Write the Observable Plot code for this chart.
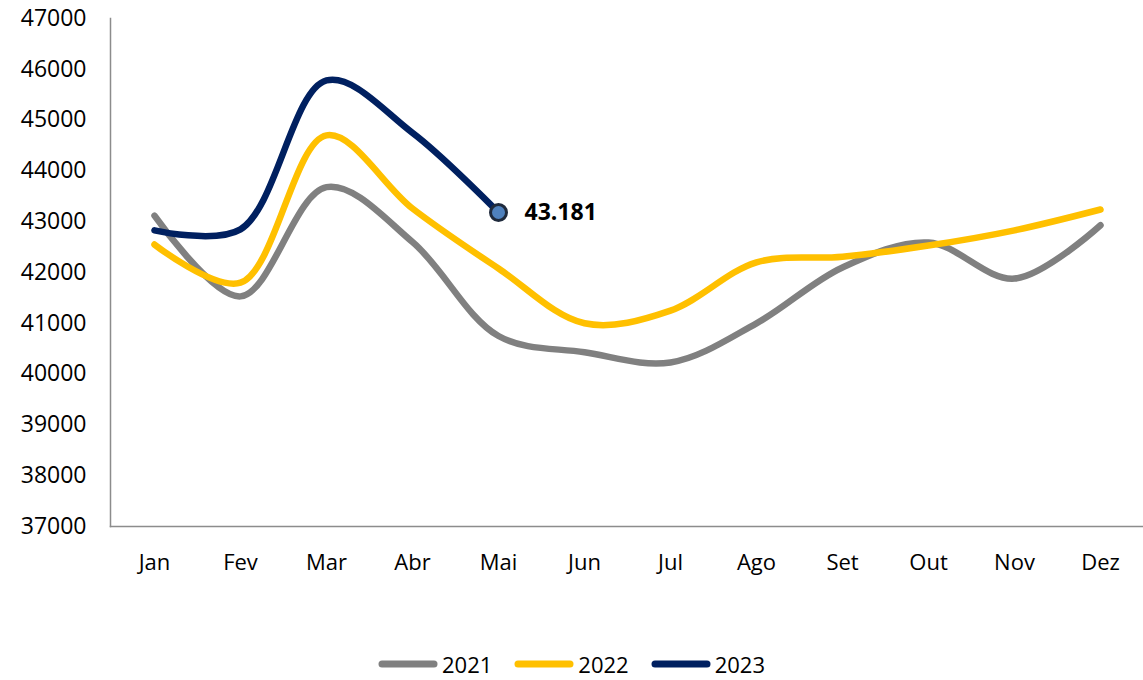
<!DOCTYPE html>
<html>
<head>
<meta charset="utf-8">
<script src="https://cdn.jsdelivr.net/npm/d3@7"></script>
<script src="https://cdn.jsdelivr.net/npm/@observablehq/plot@0.6"></script>
<style>
  body { margin: 0; background: #fff; font-family: "Open Sans", sans-serif; }
  #legend { display: flex; justify-content: center; align-items: center; height: 80px; padding-top: 48px; box-sizing: border-box; font-size: 22px; color: #000; padding-left: 22px; }
  .item { display: flex; align-items: center; margin-right: 22px; }
  .item svg { margin-right: 4px; }
</style>
</head>
<body>
<div id="chart"></div>
<div id="legend"></div>
<script>
const months = ["Jan","Fev","Mar","Abr","Mai","Jun","Jul","Ago","Set","Out","Nov","Dez"];
const years = ["2021","2022","2023"];
const colors = ["#808080","#FFC000","#002060"];
const v2021 = [43120, 41530, 43680, 42600, 40750, 40430, 40230, 41000, 42100, 42590, 41880, 42930];
const v2022 = [42550, 41800, 44700, 43260, 42080, 41000, 41250, 42200, 42310, 42530, 42830, 43240];
const v2023 = [42830, 42850, 45780, 44750, 43181];
const yTicks = [37000,38000,39000,40000,41000,42000,43000,44000,45000,46000,47000];

const series = [v2021, v2022, v2023];
const data = [];
series.forEach((vals, s) => vals.forEach((v, i) => data.push({year: years[s], month: months[i], value: v})));
const last = data.filter(d => d.year === "2023").slice(-1);

const chart = Plot.plot({
  width: 1143,
  height: 600,
  marginLeft: 110,
  marginRight: 0,
  marginTop: 18,
  marginBottom: 74,
  style: {fontFamily: "Open Sans, sans-serif", fontSize: "22px", color: "#000", background: "#fff"},
  x: {type: "point", domain: months, padding: 0.5, label: null},
  y: {domain: [37000, 47000], ticks: yTicks, label: null},
  color: {domain: years, range: colors},
  marks: [
    Plot.axisY({ticks: yTicks, tickSize: 0, tickPadding: 24, tickFormat: d => String(d), fontSize: 23, label: null}),
    Plot.axisX({tickSize: 0, tickPadding: 28, fontSize: 22, label: null}),
    Plot.frame({anchor: "left", stroke: "#8c8c8c", strokeWidth: 1.5}),
    Plot.frame({anchor: "bottom", stroke: "#8c8c8c", strokeWidth: 1.5}),
    Plot.line(data, {x: "month", y: "value", z: "year", stroke: "year", strokeWidth: 6.5, curve: "catmull-rom", strokeLinecap: "round", strokeLinejoin: "round"}),
    Plot.dot(last, {x: "month", y: "value", r: 8, fill: "#4F81BD", stroke: "#1F2A3C", strokeWidth: 3}),
    Plot.text(last, {x: "month", y: "value", text: d => "43.181", dx: 26, textAnchor: "start", fontWeight: "bold", fontSize: 23, fill: "#000"})
  ]
});
document.getElementById("chart").appendChild(chart);

const legend = document.getElementById("legend");
years.forEach((y, i) => {
  const item = document.createElement("div");
  item.className = "item";
  item.innerHTML = `<svg width="60" height="10"><line x1="4" y1="5" x2="56" y2="5" stroke="${colors[i]}" stroke-width="7" stroke-linecap="round"/></svg><span>${y}</span>`;
  legend.appendChild(item);
});
</script>
</body>
</html>
